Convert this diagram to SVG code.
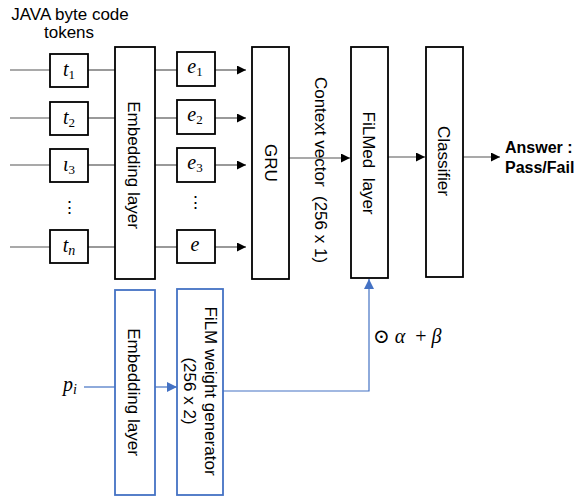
<svg xmlns="http://www.w3.org/2000/svg" width="577" height="498" viewBox="0 0 577 498">
<defs>
<style>
.box{fill:#fff;stroke:#000;stroke-width:1.8}
.bbox{fill:#fff;stroke:#4472C4;stroke-width:1.8}
.ln{stroke:#555;stroke-width:1.2;fill:none}
.bln{stroke:#4472C4;stroke-width:1.2;fill:none}
.t{font-family:"Liberation Sans",Arial,sans-serif;font-size:17px;fill:#000}
.m{font-family:"Liberation Serif","DejaVu Serif",serif;font-style:italic;font-size:20px;fill:#000}
.sub{font-size:13px;font-style:normal}
.subi{font-size:14px;font-style:italic}
.up{font-style:normal}
.b{font-family:"Liberation Sans",Arial,sans-serif;font-size:16px;font-weight:bold;fill:#000}
</style>
<marker id="ah" markerWidth="9" markerHeight="9" refX="9" refY="4.5" orient="auto" markerUnits="userSpaceOnUse"><path d="M0,0 L9,4.5 L0,9 Z" fill="#000"/></marker>
<marker id="bh" markerWidth="10" markerHeight="10" refX="10" refY="5" orient="auto" markerUnits="userSpaceOnUse"><path d="M0,0 L10,5 L0,10 Z" fill="#4472C4"/></marker>
</defs>
<rect width="577" height="498" fill="#fff"/>

<g id="connectors">
<line class="ln" x1="10" y1="70" x2="50" y2="70"/>
<line class="ln" x1="10" y1="118" x2="50" y2="118"/>
<line class="ln" x1="10" y1="165" x2="50" y2="165"/>
<line class="ln" x1="10" y1="247" x2="50" y2="247"/>
<line class="ln" x1="88" y1="70" x2="115" y2="70"/>
<line class="ln" x1="88" y1="118" x2="115" y2="118"/>
<line class="ln" x1="88" y1="165" x2="115" y2="165"/>
<line class="ln" x1="88" y1="247" x2="115" y2="247"/>
<line class="ln" x1="155" y1="70" x2="177" y2="70"/>
<line class="ln" x1="155" y1="118" x2="177" y2="118"/>
<line class="ln" x1="155" y1="165" x2="177" y2="165"/>
<line class="ln" x1="155" y1="247" x2="177" y2="247"/>
<line class="ln" x1="215" y1="70" x2="246" y2="70" marker-end="url(#ah)"/>
<line class="ln" x1="215" y1="118" x2="246" y2="118" marker-end="url(#ah)"/>
<line class="ln" x1="215" y1="165" x2="246" y2="165" marker-end="url(#ah)"/>
<line class="ln" x1="215" y1="247" x2="246" y2="247" marker-end="url(#ah)"/>
<line class="ln" x1="289" y1="158" x2="350" y2="158" marker-end="url(#ah)"/>
<line class="ln" x1="388" y1="157" x2="425" y2="157" marker-end="url(#ah)"/>
<line class="ln" x1="463" y1="157" x2="500" y2="157" marker-end="url(#ah)"/>
<line class="bln" x1="84" y1="387" x2="115" y2="387"/>
<line class="bln" x1="155" y1="387" x2="177" y2="387" marker-end="url(#bh)"/>
<polyline class="bln" points="223,391 369,391 369,279" marker-end="url(#bh)"/>
</g>

<g id="title">
<text class="t" x="70" y="20" text-anchor="middle">JAVA byte code</text>
<text class="t" x="69" y="38" text-anchor="middle">tokens</text>
</g>

<g id="t1"><rect class="box" x="50" y="54" width="38" height="33"/><text class="m" x="69" y="76" text-anchor="middle">t<tspan class="sub" dy="3">1</tspan></text></g>
<g id="t2"><rect class="box" x="50" y="102" width="38" height="33"/><text class="m" x="69" y="124" text-anchor="middle">t<tspan class="sub" dy="3">2</tspan></text></g>
<g id="t3"><rect class="box" x="50" y="149" width="38" height="33"/><text class="m" x="69" y="171" text-anchor="middle">ι<tspan class="sub" dy="3">3</tspan></text></g>
<g id="tdots"><text class="t" x="69" y="213" text-anchor="middle">⋮</text></g>
<g id="tn"><rect class="box" x="50" y="230" width="38" height="33"/><text class="m" x="69" y="252" text-anchor="middle">t<tspan class="subi" dy="3">n</tspan></text></g>

<g id="embed1"><rect class="box" x="115" y="47" width="40" height="232"/><text class="t" transform="translate(133,165) rotate(90)" text-anchor="middle" dominant-baseline="central">Embedding layer</text></g>

<g id="e1"><rect class="box" x="177" y="52" width="38" height="34"/><text class="m" x="195" y="73" text-anchor="middle">e<tspan class="sub" dy="3">1</tspan></text></g>
<g id="e2"><rect class="box" x="177" y="100" width="38" height="34"/><text class="m" x="195" y="121" text-anchor="middle">e<tspan class="sub" dy="3">2</tspan></text></g>
<g id="e3"><rect class="box" x="177" y="148" width="38" height="34"/><text class="m" x="195" y="169" text-anchor="middle">e<tspan class="sub" dy="3">3</tspan></text></g>
<g id="edots"><text class="t" x="195" y="208" text-anchor="middle">⋮</text></g>
<g id="en"><rect class="box" x="177" y="230" width="38" height="33"/><text class="m" x="195" y="251" text-anchor="middle">e</text></g>

<g id="gru"><rect class="box" x="252" y="47" width="37" height="232"/><text class="t" transform="translate(270,163) rotate(90)" text-anchor="middle" dominant-baseline="central">GRU</text></g>

<g id="ctx"><text class="t" transform="translate(320,170) rotate(90)" text-anchor="middle" dominant-baseline="central" xml:space="preserve">Context vector  (256 x 1)</text></g>

<g id="filmed"><rect class="box" x="351" y="47" width="37" height="231"/><text class="t" transform="translate(368,163) rotate(90)" text-anchor="middle" dominant-baseline="central" xml:space="preserve">FiLMed  layer</text></g>

<g id="classifier"><rect class="box" x="426" y="47" width="37" height="230"/><text class="t" transform="translate(443,161) rotate(90)" text-anchor="middle" dominant-baseline="central">Classifier</text></g>

<g id="answer"><text class="b" x="505" y="153">Answer :</text><text class="b" x="505" y="173">Pass/Fail</text></g>

<g id="pi"><text class="m" x="63" y="391">p<tspan class="subi" dy="3">i</tspan></text></g>

<g id="embed2"><rect class="bbox" x="115" y="290" width="40" height="205"/><text class="t" transform="translate(133,392) rotate(90)" text-anchor="middle" dominant-baseline="central">Embedding layer</text></g>

<g id="filmgen"><rect class="bbox" x="177" y="289" width="46" height="206"/><text class="t" transform="translate(210,391) rotate(90)" text-anchor="middle" dominant-baseline="central">FiLM weight generator</text><text class="t" transform="translate(189,391) rotate(90)" text-anchor="middle" dominant-baseline="central">(256 x 2)</text></g>

<g id="formula"><text class="m" x="373" y="343" xml:space="preserve"><tspan class="up">⊙</tspan> α  <tspan class="up">+</tspan> β</text></g>
</svg>
